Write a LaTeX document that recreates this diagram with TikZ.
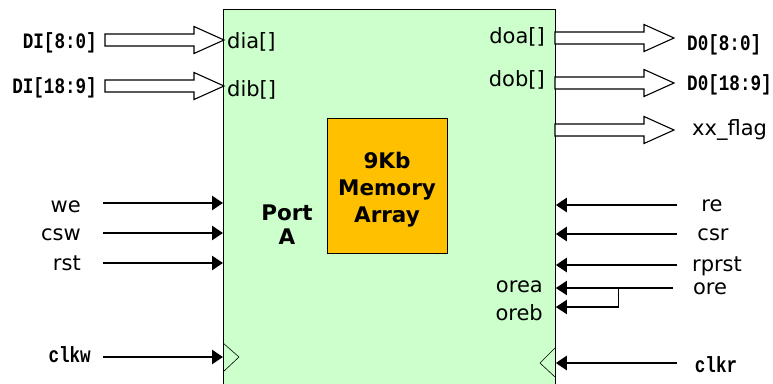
\documentclass[tikz,border=0pt]{standalone}
\usepackage{fontspec}
\setmainfont{DejaVu Sans}
\newfontfamily\pinmono[FakeStretch=0.8]{Liberation Mono}
\usetikzlibrary{arrows.meta}

\definecolor{chipgreen}{RGB}{204,255,204}
\definecolor{memorange}{RGB}{255,192,0}

\tikzset{
  pin/.style={font=\fontsize{21}{25}\selectfont, inner sep=0pt},
  busname/.style={font=\pinmono\bfseries\fontsize{22}{24}\selectfont, inner sep=0pt},
  heading/.style={font=\fontsize{21.5}{27}\selectfont\bfseries, inner sep=0pt, align=center},
  sig/.style={line width=2.6pt, -{Triangle[length=11pt,width=14pt]}},
  hollow/.style={draw=black, fill=white, line width=1.1pt, line join=miter},
}

\begin{document}
\begin{tikzpicture}[x=1pt, y=-1pt]
    \useasboundingbox (0,0) rectangle (773,383);

    % the chip, running off the bottom edge
    \node[draw, fill=chipgreen, line width=0.8pt, inner sep=0pt,
          minimum width=332pt, minimum height=420pt, anchor=north west] (chip) at (223,9) {};

    \node[draw, fill=memorange, line width=0.6pt, inner sep=0pt,
          minimum width=120pt, minimum height=135pt, anchor=north west] (mem) at (327,118) {};
    \node[heading] (memtext) at (387,190) {9Kb\\Memory\\Array};
    \node[heading, font=\fontsize{21.5}{24}\selectfont\bfseries] (porta) at (287,225) {Port\\A};

    % clock marks
    \draw[line width=0.6pt] (223,343) -- (239,357) -- (223,372);
    \draw[line width=0.6pt] (555,348) -- (540,363) -- (555,377);

    % bus arrows
    \foreach \x/\y in {105/40, 105/86, 555/38, 555/83, 555/130} {
        \draw[hollow] (\x,\y-6) -- ++(89,0) -- ++(0,-7.5) -- ++(30,13.5)
            -- ++(-30,13.5) -- ++(0,-7.5) -- ++(-89,0) -- cycle;
    }

    \node[busname, anchor=east] (dilo) at (97,43) {DI[8:0]};
    \node[busname, anchor=east] (dihi) at (97,88) {DI[18:9]};
    \node[busname, anchor=west] (dolo) at (687,45) {D0[8:0]};
    \node[busname, anchor=west] (dohi) at (687,85) {D0[18:9]};
    \node[pin, anchor=west] (flag) at (692,130) {xx\_flag};

    \node[pin, anchor=west] (dia) at (227,42) {dia[]};
    \node[pin, anchor=west] (dib) at (227,90) {dib[]};
    \node[pin, anchor=east] (doa) at (545,37) {doa[]};
    \node[pin, anchor=east] (dob) at (545,80) {dob[]};
    \node[pin, anchor=east] (orea) at (543,287) {orea};
    \node[pin, anchor=east] (oreb) at (543,313) {oreb};

    % write side
    \foreach \nm/\y/\dy in {we/203/4, csw/233/2, rst/263/0} {
        \coordinate (\nm-in) at (103,\y);
        \node[pin, anchor=east] (\nm) at ([shift={(-22,\dy)}]\nm-in) {\nm};
        \draw[sig] (\nm-in) -- (\nm-in -| chip.west);
    }
    \coordinate (clkw-in) at (103,357);
    \node[busname, anchor=east] (clkw) at ([shift={(-12,-2)}]clkw-in) {clkw};
    \draw[sig] (clkw-in) -- (clkw-in -| chip.west);

    % read side
    \foreach \nm/\y/\x in {re/205/712, csr/234/713, rprst/265/717} {
        \coordinate (\nm-in) at (677,\y);
        \node[pin] (\nm) at (\x,\y+1) {\nm};
        \draw[sig] (\nm-in) -- (\nm-in -| chip.east);
    }
    \coordinate (ore-in) at (673,288);
    \coordinate (ore-br) at (618,288);
    \node[pin] (ore) at (710,289) {ore};
    \draw[sig, line width=2pt] (ore-in) -- (ore-in -| chip.east);
    \draw[line width=1pt] (ore-br) -- ++(0,19) coordinate (ore-dn);
    \draw[sig, line width=2pt] ([xshift=0.5pt]ore-dn) -- (ore-dn -| chip.east);

    \coordinate (clkr-in) at (677,363);
    \node[busname] (clkr) at (716,365) {clkr};
    \draw[sig] (clkr-in) -- (clkr-in -| chip.east);
\end{tikzpicture}
\end{document}
